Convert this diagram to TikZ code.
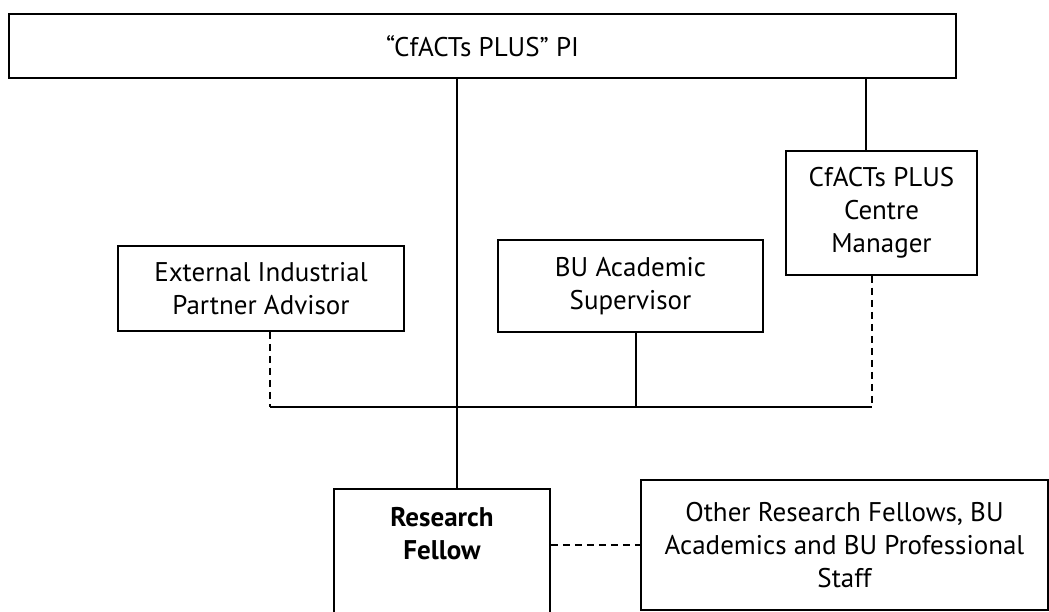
\documentclass[tikz,border=0pt]{standalone}
\usepackage{fontspec}
\setmainfont{PT Sans}
\begin{document}
\begin{tikzpicture}[x=1pt,y=-1pt,
  box/.style={draw, line width=1.5pt, inner sep=0pt, align=center,
    font=\fontsize{27}{33}\selectfont},
  txt/.style={inner sep=0pt, align=center, font=\fontsize{27}{33}\selectfont},
  solidline/.style={line width=1.3pt},
  dashline/.style={line width=1.3pt, dash pattern=on 7pt off 5pt}]
\useasboundingbox (0,0) rectangle (1049,612);
\clip (0,0) rectangle (1049,612);
% boxes
\node[box, minimum width=947pt, minimum height=64pt] (pi) at (482.5,46) {“CfACTs PLUS” PI};
\node[box, minimum width=191pt, minimum height=124pt] (mgr) at (881.5,213) {CfACTs PLUS\\Centre\\Manager};
\node[box, minimum width=286pt, minimum height=85pt] (ext) at (261,288.5) {External Industrial\\Partner Advisor};
\node[box, minimum width=265pt, minimum height=92pt] (bu) at (630.5,286) {BU Academic\\Supervisor};
\node[box, minimum width=216pt, minimum height=180pt, anchor=north] (rf) at (442,488) {};
\node[txt, font=\fontsize{27}{33}\selectfont\bfseries] (rft) at (442,534) {Research\\Fellow};
\node[box, minimum width=407pt, minimum height=130pt] (oth) at (844.5,545) {Other Research Fellows, BU\\Academics and BU Professional\\Staff};
% helper coordinates
\coordinate (vmain) at (457,0);
\coordinate (vmgr) at (866,0);
\coordinate (vbu) at (636,0);
\coordinate (vext) at (270,0);
\coordinate (vmgrd) at (872,0);
\coordinate (busy) at (0,407);
% connectors
\draw[solidline] (pi.south -| vmain) -- (rf.north -| vmain);
\draw[solidline] (pi.south -| vmgr) -- (mgr.north -| vmgr);
\draw[solidline] (bu.south -| vbu) -- (busy -| vbu);
\draw[solidline] (busy -| vext) -- (busy -| vmgrd);
\draw[dashline] (ext.south -| vext) -- (busy -| vext);
\draw[dashline] (mgr.south -| vmgrd) -- (busy -| vmgrd);
\draw[dashline] (rf.east |- oth.west) -- (oth.west);
\end{tikzpicture}
\end{document}
